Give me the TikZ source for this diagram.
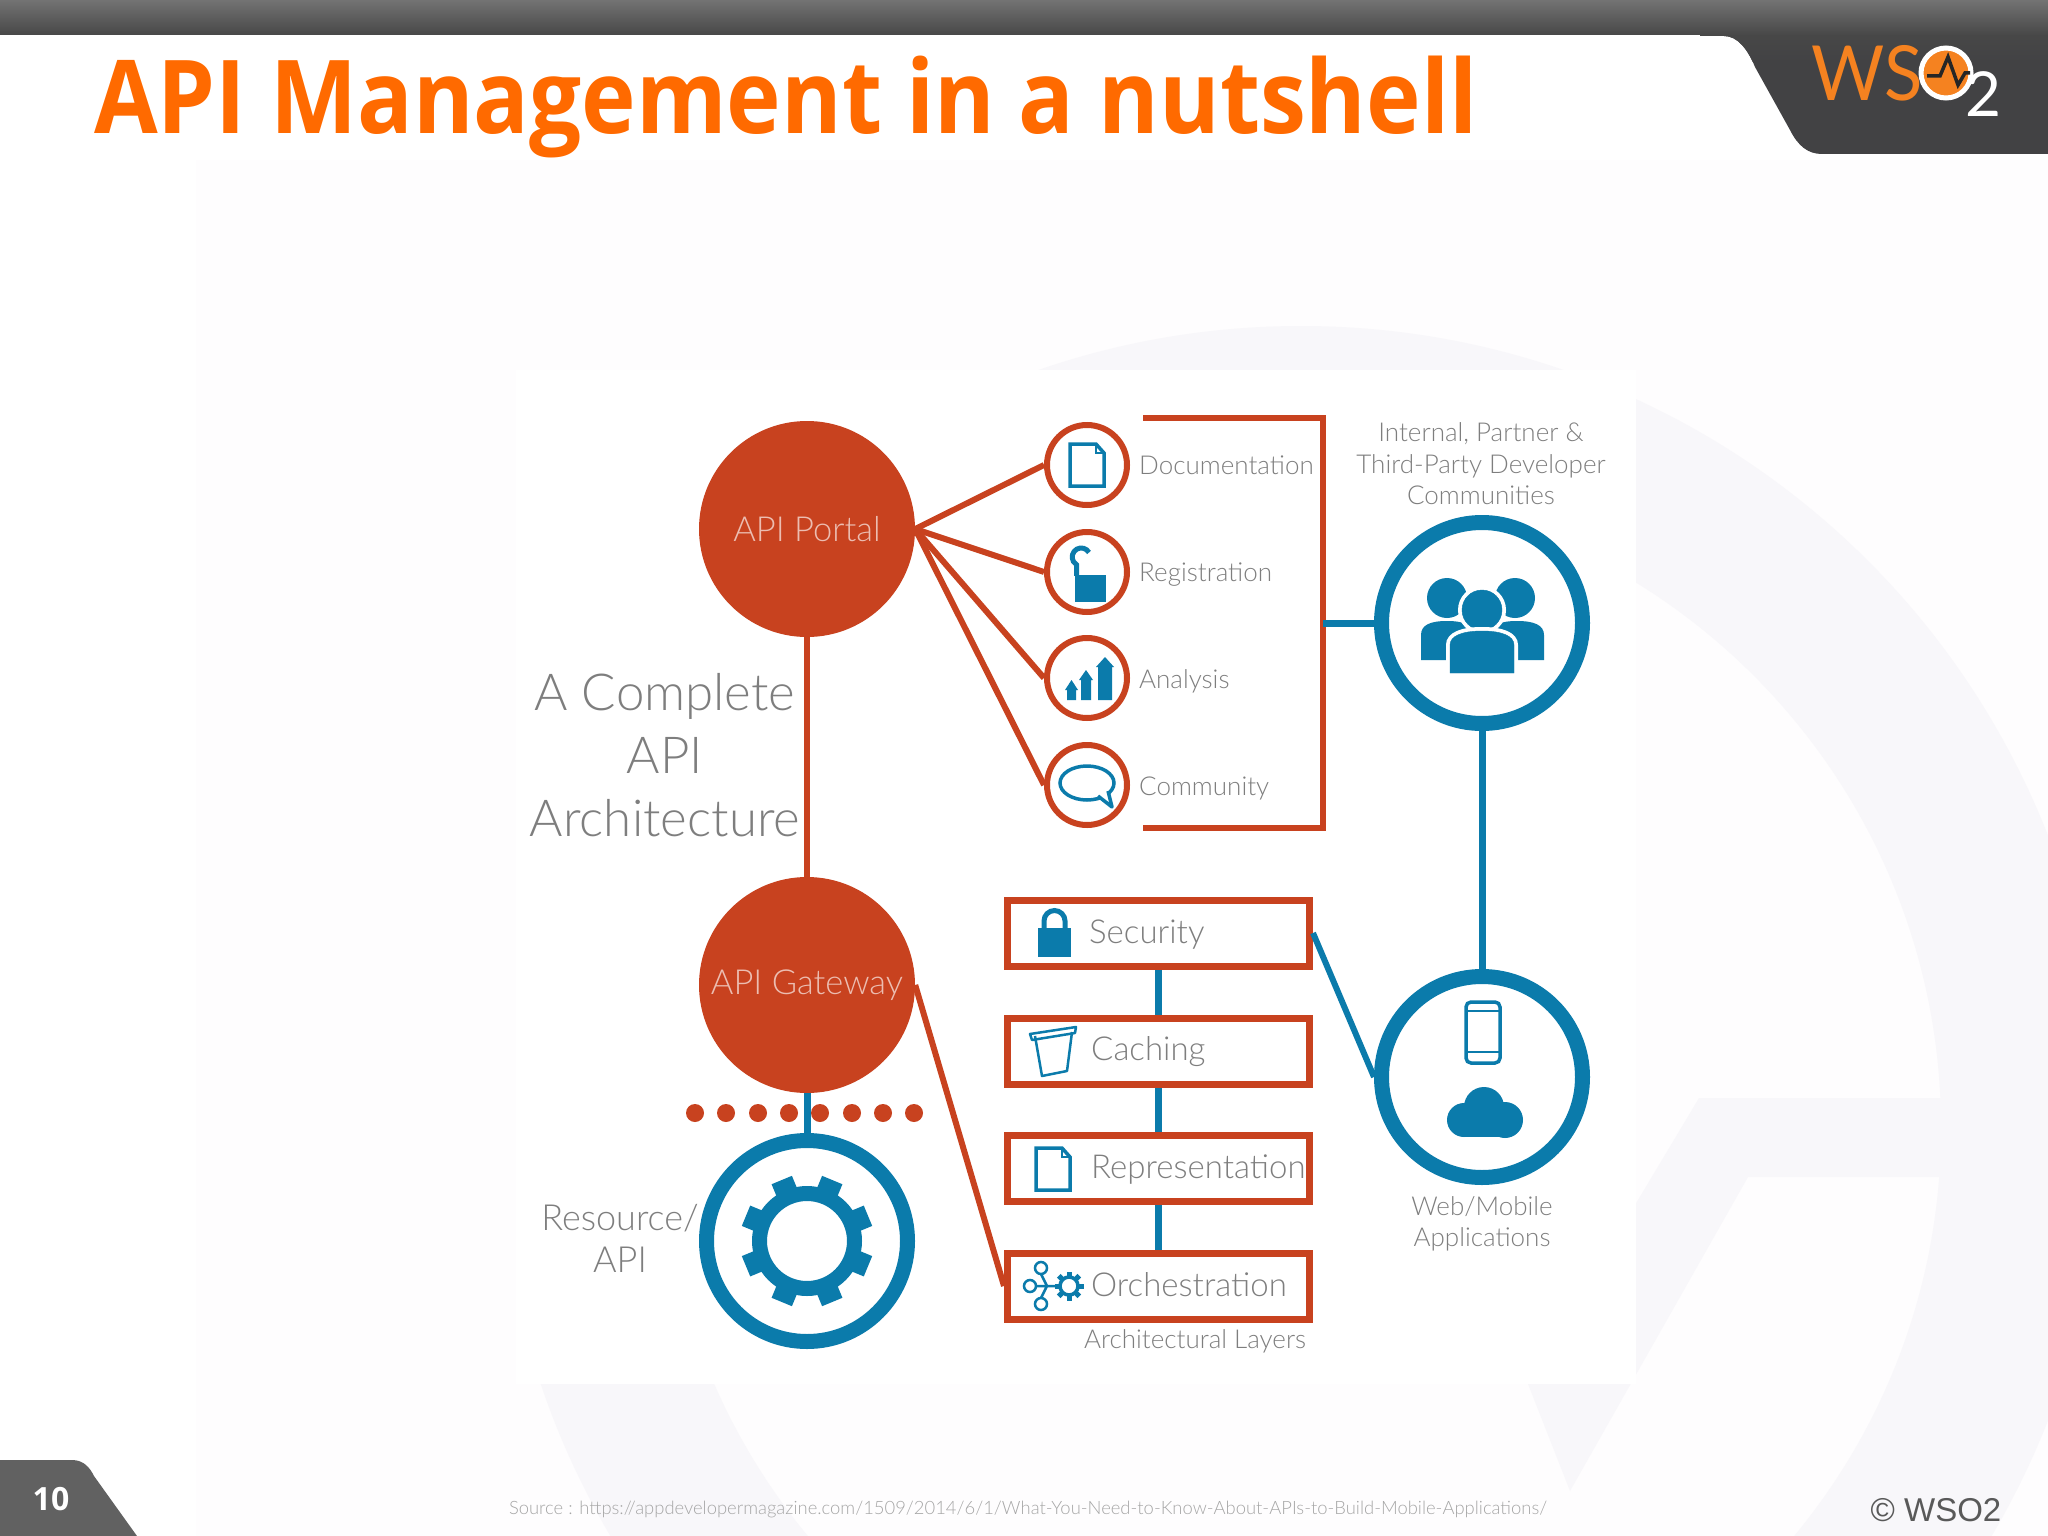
\documentclass[tikz,border=0pt]{standalone}
\usepackage{fontspec}
\setmainfont{Open Sans}
\newfontfamily\lightfont{Lato}[UprightFont=* Light]
\newfontfamily\logofont{Lato}
\newfontfamily\arialfont{Liberation Sans}
\usepackage{tikz}
\definecolor{apired}{HTML}{C8421F}
\definecolor{apiblue}{HTML}{0B7BAB}
\definecolor{labelgray}{HTML}{7E7E7E}
\definecolor{markgray}{HTML}{F8F7FA}
\definecolor{slidedark}{HTML}{424244}
\definecolor{wsoorange}{HTML}{F58220}
\definecolor{titleorange}{HTML}{FF6A00}
\tikzset{
  bigdisc/.style={circle,fill=apired,minimum size=216pt,inner sep=0pt,text=white!65!apired,font=\lightfont\fontsize{34.5}{40}\selectfont},
  bigring/.style={circle,draw=apiblue,fill=white,line width=15pt,minimum size=201pt,inner sep=0pt},
  smallring/.style={circle,draw=apired,fill=white,line width=6pt,minimum size=80pt,inner sep=0pt},
  layerbox/.style={draw=apired,fill=white,line width=7pt,minimum width=302pt,minimum height=66pt,inner sep=0pt},
  redline/.style={draw=apired,line width=6pt},
  blueline/.style={draw=apiblue,line width=7pt},
  iconline/.style={draw=apiblue,line width=3.5pt},
  thinicon/.style={draw=apiblue,line width=2.5pt},
  reddot/.style={circle,fill=apired,minimum size=18pt,inner sep=0pt},
  tinylabel/.style={text=labelgray,font=\lightfont\fontsize{26}{31.5}\selectfont,inner sep=0pt,align=center},
  boxlabel/.style={text=labelgray,font=\lightfont\fontsize{33}{40}\selectfont,inner sep=0pt,anchor=base west},
  sidelabel/.style={text=labelgray,font=\lightfont\fontsize{36}{42}\selectfont,inner sep=0pt,align=center},
  docicon/.pic={
    \draw[iconline,line join=miter] (-17,-21) -- (9,-21) -- (17,-12) -- (17,21) -- (-17,21) -- cycle;
    \draw[thinicon] (9,-21) -- (9,-12) -- (17,-12);
  }
}
\begin{document}
\begin{tikzpicture}[x=1pt,y=-1pt]
\useasboundingbox (0,0) rectangle (2048,1536);
% slide background
\fill[white] (0,0) rectangle (2048,1536);
\fill[white!80!markgray] (196,160) rectangle (2048,1536);
\fill[markgray,even odd rule] (1301,1128) circle (802) (1301,1128) circle (640);
\fill[markgray] (1699,1098) -- (1950,1098) -- (1950,1177) -- (1748,1177) -- (1570,1491) -- (1528,1384) -- cycle;
\fill[white!80!markgray] (196,160) rectangle (516,1384);
\fill[white] (516,370) rectangle (1636,1384);
% header
\begin{scope}
\clip (1700,0) -- (1700,36) -- (1724,36) .. controls (1738,36) and (1748,50) .. (1755,67) -- (1790,130) .. controls (1798,146) and (1808,154) .. (1822,154) -- (2048,154) -- (2048,0) -- cycle;
\fill[slidedark] (1700,0) rectangle (2048,154);
\shade[top color=black!72,bottom color=slidedark] (1700,35) rectangle (2048,62);
\end{scope}
\shade[top color=black!55,bottom color=black!72] (0,0) rectangle (2048,35);
\node[anchor=base west,inner sep=0pt,text=wsoorange,font=\logofont\fontsize{76}{76}\selectfont] (wsotext) at (1811,101) {\scalebox{.93}[1]{WS}};
\node[circle,fill=wsoorange,draw=white,line width=5pt,minimum size=50pt,inner sep=0pt] (wsoball) at (1946,73) {};
\draw[black!85,line width=3.5pt] (1927,76) -- (1940,76) -- (1948,57) -- (1958,85) -- (1965,73) -- (1970,73);
\node[anchor=base west,inner sep=0pt,text=white,font=\logofont\fontsize{62}{62}\selectfont] (wsotwo) at (1965,117) {2};
\node[anchor=base west,inner sep=0pt,text=titleorange,font=\fontsize{102}{102}\selectfont\bfseries] (title) at (94,134) {\scalebox{.905}[1]{API Management in a nutshell}};
% footer
\fill[black!62] (0,1536) -- (0,1460) -- (72,1460) .. controls (84,1460) and (90,1468) .. (94,1476) -- (137,1536) -- cycle;
\node[text=white,font=\fontsize{32}{32}\selectfont\bfseries,inner sep=0pt] (pageno) at (51,1499) {10};
\node[text=black!35,font=\lightfont\fontsize{18.4}{24}\selectfont,inner sep=0pt] (source) at (1028,1509) {Source : https://appdevelopermagazine.com/1509/2014/6/1/What-You-Need-to-Know-About-APIs-to-Build-Mobile-Applications/};
\node[text=black!65,font=\arialfont\fontsize{33}{33}\selectfont,inner sep=0pt] (copy) at (1936,1510) {\textcopyright{} WSO2};
% main circles and layers
\node[bigdisc] (portal) at (807,529) {API Portal};
\node[bigdisc] (gateway) at (807,985) {API Gateway};
\node[bigring] (resource) at (807,1241) {};
\node[bigring] (people) at (1482,623) {};
\node[bigring] (webapps) at (1482,1077) {};
\node[smallring] (doc) at (1087,465) {};
\node[smallring] (reg) at (1087,572) {};
\node[smallring] (ana) at (1087,678) {};
\node[smallring] (com) at (1087,785) {};
\node[layerbox] (sec) at (1158.5,933) {};
\node[layerbox] (cache) at (1158.5,1051) {};
\node[layerbox] (rep) at (1158.5,1168) {};
\node[layerbox] (orch) at (1158.5,1286) {};
\coordinate (brkta) at (1143,418);
\coordinate (brktb) at (1323,418);
\coordinate (brktc) at (1323,828);
\coordinate (brktd) at (1143,828);
\coordinate (brktmid) at (1323,623);
\foreach \i/\xx in {1/695,2/726,3/758,4/789,5/820,6/852,7/883,8/914}
  \node[reddot] (dot\i) at (\xx,1113) {};
% connectors
\draw[redline] (portal) -- (gateway);
\draw[blueline] (gateway) -- (resource);
\draw[redline] (portal.east) -- (doc.west);
\draw[redline] (portal.east) -- (reg.west);
\draw[redline] (portal.east) -- (ana.west);
\draw[redline] (portal.east) -- (com.west);
\draw[redline,line width=6.5pt,line join=miter] (brkta) -- (brktb) -- (brktc) -- (brktd);
\draw[blueline] (brktmid) -- (people.west);
\draw[blueline] (people.south) -- (webapps.north);
\draw[blueline] (sec) -- (cache);
\draw[blueline] (cache) -- (rep);
\draw[blueline] (rep) -- (orch);
\draw[blueline,line width=6pt] (sec.east) -- (webapps.west);
\draw[redline] (gateway.east) -- (orch.west);
% labels
\node[text=labelgray,font=\lightfont\fontsize{51}{63}\selectfont,inner sep=0pt,align=center] (archtxt) at (665,755) {A Complete\\API\\Architecture};
\node[sidelabel] (restxt) at (620,1238) {Resource/\\API};
\node[tinylabel,anchor=west] (doctxt) at (1139,465) {Documentation};
\node[tinylabel,anchor=west] (regtxt) at (1139,575) {Registration};
\node[tinylabel,anchor=west] (anatxt) at (1139,681) {Analysis};
\node[tinylabel,anchor=west] (comtxt) at (1139,788) {Community};
\node[tinylabel] (peopletxt) at (1481,464) {Internal, Partner \&\\Third-Party Developer\\Communities};
\node[tinylabel] (webtxt) at (1482,1224) {Web/Mobile\\Applications};
\node[tinylabel] (layertxt) at (1195,1341) {Architectural Layers};
\node[boxlabel] (sectxt) at (1089,943) {Security};
\node[boxlabel] (cachetxt) at (1091,1060) {Caching};
\node[boxlabel] (reptxt) at (1091,1178) {Representation};
\node[boxlabel] (orchtxt) at (1091,1296) {Orchestration};
% icons
\pic at (1087,465) {docicon};
\pic at (1053,1169) {docicon};
\fill[apiblue] (1075,575) rectangle (1106,602);
\draw[iconline,line width=5pt] (1089,552.5) arc (-30:-240:9) -- (1076.5,576);
\foreach \xx/\yy/\w in {1071.5/680/6.5,1086/670/7,1105/657/9}
  \fill[apiblue] (\xx-\w+2,700) -- (\xx-\w+2,\yy+10) -- (\xx-\w,\yy+10) -- (\xx,\yy) -- (\xx+\w,\yy+10) -- (\xx+\w-2,\yy+10) -- (\xx+\w-2,700) -- cycle;
\draw[iconline] (1087,783) ellipse (27 and 17);
\draw[iconline,fill=white,line join=round] (1098,796) -- (1112,807) -- (1108,791);
% people
\fill[apiblue] (1447,598) circle (20);
\fill[apiblue] (1515,598) circle (20);
\fill[apiblue] (1421,660) -- (1421,635) .. controls (1421,625) and (1430,621) .. (1447,621) .. controls (1464,621) and (1473,625) .. (1473,635) -- (1473,660) -- cycle;
\fill[apiblue] (1491,660) -- (1491,635) .. controls (1491,625) and (1500,621) .. (1517,621) .. controls (1534,621) and (1544,625) .. (1544,635) -- (1544,660) -- cycle;
\draw[apiblue,fill=apiblue,preaction={draw=white,line width=8pt}] (1482,610) circle (20);
\draw[apiblue,fill=apiblue,preaction={draw=white,line width=8pt}] (1450,673) -- (1450,645) .. controls (1450,636) and (1462,631) .. (1482,631) .. controls (1502,631) and (1514,636) .. (1514,645) -- (1514,673) -- cycle;
% gear
\begin{scope}[shift={(807,1241)}]
\draw[apiblue,line width=15pt] (0,0) circle (47.5);
\foreach \a in {22.5,67.5,...,337.5}
  \draw[apiblue,line width=22pt] (\a:50) -- (\a:66);
\end{scope}
% security lock
\fill[apiblue] (1038,928) rectangle (1071,957);
\draw[iconline,line width=5pt] (1044,929) -- (1044,921) arc (-180:0:10.5) -- (1065,929);
% caching bin
\draw[thinicon,line join=round] (1035,1036) -- (1042,1076) -- (1067,1071) -- (1072,1032);
\draw[thinicon,line join=round] (1030,1034) -- (1076,1027) -- (1075,1033) -- (1032,1040) -- cycle;
% orchestration
\draw[thinicon] (1041,1268) circle (6) (1041,1304) circle (6) (1030,1286) circle (6);
\draw[thinicon] (1036,1286) -- (1055,1286) (1041,1274) -- (1047,1286) -- (1041,1298);
\begin{scope}[shift={(1069,1286)}]
\draw[apiblue,line width=3.5pt] (0,0) circle (9);
\foreach \a in {0,45,...,315}
  \draw[apiblue,line width=5pt] (\a:9) -- (\a:14.5);
\end{scope}
% phone and cloud
\draw[iconline,rounded corners=5pt] (1466,1002) rectangle (1500,1063);
\draw[thinicon] (1466,1011) -- (1500,1011) (1466,1052) -- (1500,1052);
\fill[apiblue] (1464,1120) circle (17) (1505,1120) circle (18) (1484,1107) circle (20);
\fill[apiblue] (1464,1112) rectangle (1505,1137);
\end{tikzpicture}
\end{document}
